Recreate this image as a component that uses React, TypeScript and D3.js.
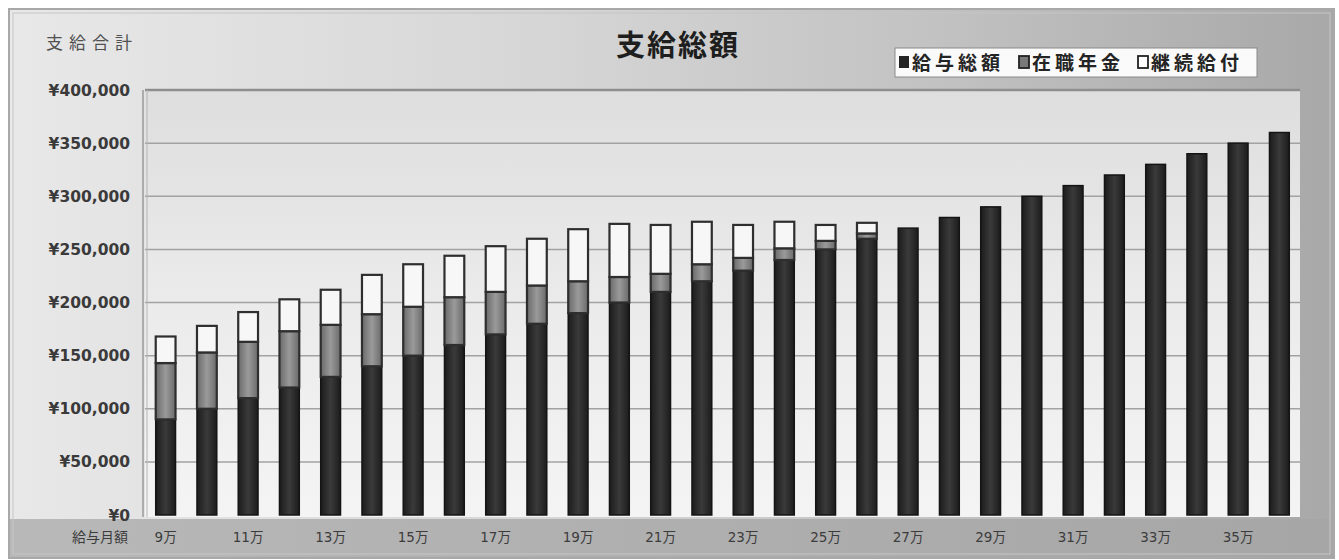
import React from "react";
import * as d3 from "d3";

const categories = ["9万","10万","11万","12万","13万","14万","15万","16万","17万","18万","19万","20万","21万","22万","23万","24万","25万","26万","27万","28万","29万","30万","31万","32万","33万","34万","35万","36万"];
const salary = [90000,100000,110000,120000,130000,140000,150000,160000,170000,180000,190000,200000,210000,220000,230000,240000,250000,260000,270000,280000,290000,300000,310000,320000,330000,340000,350000,360000];
const pension = [53000,53000,53000,53000,49000,49000,46000,45000,40000,36000,30000,24000,17000,16000,12000,11000,8000,5000,0,0,0,0,0,0,0,0,0,0];
const benefit = [25000,25000,28000,30000,33000,37000,40000,39000,43000,44000,49000,50000,46000,40000,31000,25000,15000,10000,0,0,0,0,0,0,0,0,0,0];
const yTicks = [0,50000,100000,150000,200000,250000,300000,350000,400000];
const seriesNames = ["給与総額","在職年金","継続給付"];
const title = "支給総額";
const yTitle = "支給合計";
const xTitle = "給与月額";

const W = 1339, H = 560;
const PL = 145, PR = 1300, PT = 90, PB = 515;

export default function App() {
  const x = d3.scaleBand<string>().domain(categories).range([PL, PR]).paddingInner(0.52).paddingOuter(0.26);
  const y = d3.scaleLinear().domain([0, 400000]).range([PB, PT]);
  const bw = x.bandwidth();
  const fmt = d3.format(",");
  const cjk = "'Noto Sans CJK JP', 'DejaVu Sans', sans-serif";
  const num = "'DejaVu Sans', 'Noto Sans CJK JP', sans-serif";

  const stacked = categories.map((c, i) => {
    const s0 = 0, s1 = salary[i], s2 = s1 + pension[i], s3 = s2 + benefit[i];
    return { c, segs: [[s0, s1], [s1, s2], [s2, s3]] };
  });

  return (
    <svg width={W} height={H} style={{ position: "absolute", left: 0, top: 0, background: "#fff" }}>
      <defs>
        <linearGradient id="outer" x1="0" y1="0" x2="1" y2="0">
          <stop offset="0" stopColor="#e8e8e8" />
          <stop offset="0.4" stopColor="#d6d6d6" />
          <stop offset="0.7" stopColor="#c2c2c2" />
          <stop offset="1" stopColor="#a8a8a8" />
        </linearGradient>
        <linearGradient id="bottom" x1="0" y1="0" x2="1" y2="0">
          <stop offset="0" stopColor="#b8b8b8" />
          <stop offset="1" stopColor="#a6a6a6" />
        </linearGradient>
        <linearGradient id="plot" x1="0" y1="0" x2="0" y2="1">
          <stop offset="0" stopColor="#dedede" />
          <stop offset="0.5" stopColor="#ebebeb" />
          <stop offset="1" stopColor="#f4f4f4" />
        </linearGradient>
        <linearGradient id="dark" x1="0" y1="0" x2="1" y2="0">
          <stop offset="0" stopColor="#1c1c1c" />
          <stop offset="0.5" stopColor="#3a3a3a" />
          <stop offset="1" stopColor="#1c1c1c" />
        </linearGradient>
        <linearGradient id="mid" x1="0" y1="0" x2="1" y2="0">
          <stop offset="0" stopColor="#6a6a6a" />
          <stop offset="0.5" stopColor="#9a9a9a" />
          <stop offset="1" stopColor="#6a6a6a" />
        </linearGradient>
      </defs>

      {/* outer frame */}
      <rect x={10} y={10} width={1323} height={547} fill="url(#outer)" />
      <rect x={10} y={519} width={1323} height={38} fill="url(#bottom)" />
      <rect x={9} y={9} width={1325} height={549} fill="none" stroke="#a8a8a8" strokeWidth={2} />
      <rect x={13} y={13} width={1317} height={541} fill="none" stroke="#c6c6c6" strokeWidth={1} />

      {/* plot area */}
      <rect x={PL} y={PT} width={PR - PL} height={PB - PT + 2} fill="url(#plot)" />
      {yTicks.filter(t => t > 0).map(t => (
        <line key={t} x1={PL} x2={PR} y1={y(t)} y2={y(t)} stroke={t === 400000 ? "#8e8e8e" : "#a2a2a2"} strokeWidth={t === 400000 ? 2.5 : 1.5} />
      ))}
      <line x1={PL - 2} x2={PL - 2} y1={PT} y2={PB + 2} stroke="#9a9a9a" strokeWidth={1.5} />
      <line x1={PL + 2} x2={PL + 2} y1={PT} y2={PB + 2} stroke="#b4b4b4" strokeWidth={1} />

      {/* bars */}
      {stacked.map(b => (
        <g key={b.c}>
          {b.segs.map(([a, e], k) => e > a ? (
            <rect key={k} x={x(b.c)!} y={y(e)} width={bw} height={y(a) - y(e)}
              fill={k === 0 ? "url(#dark)" : k === 1 ? "url(#mid)" : "#f7f7f7"}
              stroke={k === 0 ? "#141414" : "#2e2e2e"} strokeWidth={k === 0 ? 1.5 : 2.2} />
          ) : null)}
        </g>
      ))}

      {/* y axis labels */}
      {yTicks.map(t => (
        <text key={t} x={130} y={y(t)} dy="0.36em" textAnchor="end" fontFamily={num} fontSize={15.5} fontWeight={700} fill="#3a3a3a">
          {"¥" + fmt(t)}
        </text>
      ))}
      {/* x axis labels */}
      {categories.map((c, i) => i % 2 === 0 ? (
        <text key={c} x={x(c)! + bw / 2} y={542} textAnchor="middle" fontFamily={num} fontSize={13.5} fill="#3c3c3c">{c}</text>
      ) : null)}
      <text x={128} y={542} textAnchor="end" fontFamily={cjk} fontSize={14} fill="#3c3c3c">{xTitle}</text>

      {/* titles */}
      <text x={46} y={49} fontFamily={cjk} fontSize={17} letterSpacing={6} fill="#505050">{yTitle}</text>
      <text x={678} y={56} textAnchor="middle" fontFamily={cjk} fontSize={29} fontWeight={700} letterSpacing={2} fill="#1e1e1e">{title}</text>

      {/* legend */}
      <rect x={895} y={48} width={362} height={29} fill="#fafafa" stroke="#8a8a8a" strokeWidth={1} />
      {seriesNames.map((n, i) => {
        const lx = [899, 1019, 1138][i];
        return (
          <g key={n}>
            <rect x={lx} y={56} width={10} height={12}
              fill={i === 0 ? "#222" : i === 1 ? "#7a7a7a" : "#fff"} stroke="#222" strokeWidth={i === 0 ? 0 : 1.8} />
            <text x={lx + 13} y={70} fontFamily={cjk} fontSize={19} fontWeight={700} letterSpacing={4} fill="#242424">{n}</text>
          </g>
        );
      })}
    </svg>
  );
}
